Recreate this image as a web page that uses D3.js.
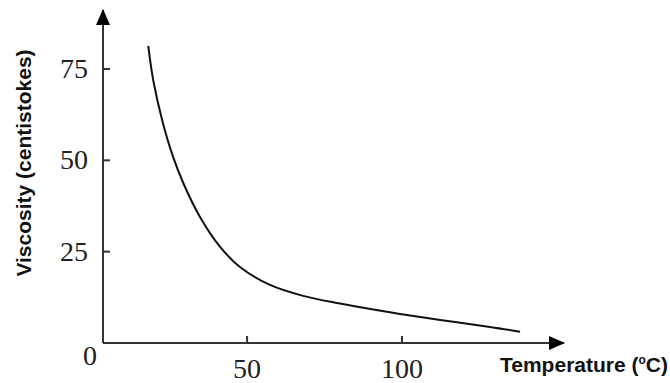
<!doctype html>
<html>
<head>
<script src="https://d3js.org/d3.v7.min.js"></script>
<style>
  body { margin: 0; background: #fff; }
</style>
</head>
<body>
<div id="chart"></div>
<script>
// temperature (C) and viscosity (centistokes)
var temps = [18.1, 19.7, 22.6, 26.1, 29.4, 34.8, 41.3, 47.7, 57.4, 68.1, 80.0, 96.1, 112.3, 128.4, 138.1];
var visc  = [81.3, 72.0, 61.0, 51.0, 43.8, 34.5, 26.3, 20.8, 15.9, 12.9, 10.8, 8.4, 6.3, 4.4, 3.1];
var xTicks = [50, 100];
var yTicks = [25, 50, 75];
var originLabel = "0";

var width = 670, height = 383;

var svg = d3.select("#chart").append("svg")
    .attr("width", width)
    .attr("height", height);

// scales: origin of the drawn axes sits at about 3.5 C
var x = d3.scaleLinear().domain([3.5, 100]).range([103, 402]);
var y = d3.scaleLinear().domain([0, 75]).range([343, 69]);

var axisColor = "#333";

// arrow heads
var defs = svg.append("defs");
defs.append("marker")
    .attr("id", "arrow")
    .attr("viewBox", "0 0 16 14")
    .attr("refX", 15).attr("refY", 7)
    .attr("markerWidth", 16).attr("markerHeight", 14)
    .attr("markerUnits", "userSpaceOnUse")
    .attr("orient", "auto")
  .append("path")
    .attr("d", "M0,0 L16,7 L0,14 Z")
    .attr("fill", "#000");

// y axis line
svg.append("line")
    .attr("x1", x(3.5)).attr("x2", x(3.5))
    .attr("y1", y(0)).attr("y2", 10)
    .attr("stroke", axisColor).attr("stroke-width", 2)
    .attr("marker-end", "url(#arrow)");

// x axis line
svg.append("line")
    .attr("x1", x(3.5)).attr("x2", 564)
    .attr("y1", y(0)).attr("y2", y(0))
    .attr("stroke", axisColor).attr("stroke-width", 2)
    .attr("marker-end", "url(#arrow)");

// y ticks (pointing inward)
svg.append("g").selectAll("line")
  .data(yTicks)
  .enter().append("line")
    .attr("x1", x(3.5)).attr("x2", x(3.5) + 7)
    .attr("y1", function(d) { return y(d); })
    .attr("y2", function(d) { return y(d); })
    .attr("stroke", axisColor).attr("stroke-width", 2);

svg.append("g").selectAll("text")
  .data(yTicks)
  .enter().append("text")
    .attr("x", 88)
    .attr("y", function(d) { return y(d) + 9; })
    .attr("text-anchor", "end")
    .style("font-family", "'Liberation Serif', 'Times New Roman', serif")
    .style("font-size", "28px")
    .style("fill", "#222")
    .text(function(d) { return d; });

// x ticks
svg.append("g").selectAll("line")
  .data(xTicks)
  .enter().append("line")
    .attr("x1", function(d) { return x(d); })
    .attr("x2", function(d) { return x(d); })
    .attr("y1", y(0)).attr("y2", y(0) - 7)
    .attr("stroke", axisColor).attr("stroke-width", 2);

svg.append("g").selectAll("text")
  .data(xTicks)
  .enter().append("text")
    .attr("x", function(d) { return x(d); })
    .attr("y", 378)
    .attr("text-anchor", "middle")
    .style("font-family", "'Liberation Serif', 'Times New Roman', serif")
    .style("font-size", "28px")
    .style("fill", "#222")
    .text(function(d) { return d; });

svg.append("text")
    .attr("x", 90).attr("y", 365)
    .attr("text-anchor", "middle")
    .style("font-family", "'Liberation Serif', 'Times New Roman', serif")
    .style("font-size", "28px")
    .style("fill", "#222")
    .text(originLabel);

// curve
var line = d3.line()
    .x(function(d, i) { return x(temps[i]); })
    .y(function(d, i) { return y(visc[i]); })
    .curve(d3.curveCatmullRom.alpha(0.5));

svg.append("path")
    .datum(temps)
    .attr("d", line)
    .attr("fill", "none")
    .attr("stroke", "#111")
    .attr("stroke-width", 2);

// axis titles
svg.append("text")
    .attr("transform", "translate(31,163) rotate(-90)")
    .attr("text-anchor", "middle")
    .style("font-family", "'Liberation Sans', Arial, sans-serif")
    .style("font-weight", "bold")
    .style("font-size", "21px")
    .style("fill", "#111")
    .text("Viscosity (centistokes)");

var xt = svg.append("text")
    .attr("x", 500).attr("y", 372)
    .style("font-family", "'Liberation Sans', Arial, sans-serif")
    .style("font-weight", "bold")
    .style("font-size", "21px")
    .style("fill", "#111");
xt.append("tspan").text("Temperature (");
xt.append("tspan").attr("dy", -8).style("font-size", "12px").text("o");
xt.append("tspan").attr("dy", 8).text("C)");
</script>
</body>
</html>
